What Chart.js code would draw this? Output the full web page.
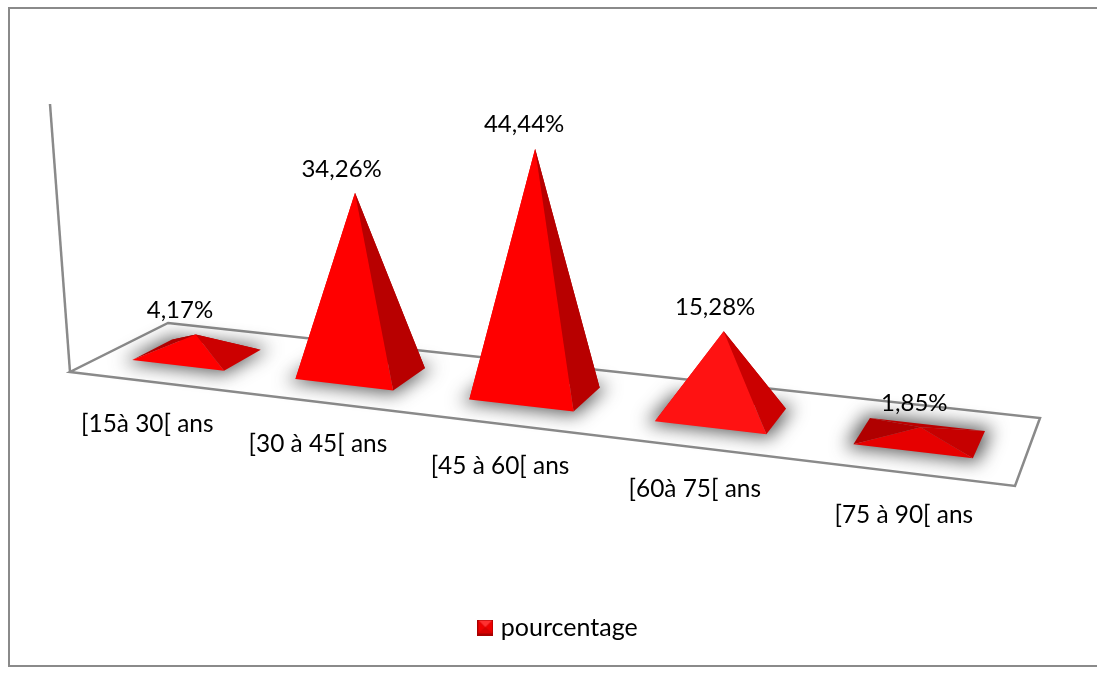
<!DOCTYPE html>
<html lang="fr">
<head>
<meta charset="utf-8">
<title>Répartition par tranche d'âge</title>
<style>html,body{margin:0;padding:0;background:#fff}canvas{display:block}</style>
<script src="https://cdn.jsdelivr.net/npm/chart.js@4/dist/chart.umd.min.js"></script>
</head>
<body>
<canvas id="chart" width="1097" height="673"></canvas>
<script>
// Chart content
const categories = ['[15à 30[ ans', '[30 à 45[ ans', '[45 à 60[ ans', '[60à 75[ ans', '[75 à 90[ ans'];
const seriesName = 'pourcentage';
const percentages = [4.17, 34.26, 44.44, 15.28, 1.85];
const valueLabels = ['4,17%', '34,26%', '44,44%', '15,28%', '1,85%'];

// Face shading per column: front, right, left, back (steep faces catch the light differently)
const faceShades = [
  ['#ff0000', '#cc0000', '#b00000', '#a80000'],
  ['#ff0000', '#b80000', '#e00000', '#a80000'],
  ['#ff0000', '#b80000', '#e00000', '#a80000'],
  ['#ff1212', '#cb0000', '#e00000', '#a80000'],
  ['#e60000', '#c60000', '#b00000', '#bc0000']
];

const GREY = '#8a8a8a';
const FONT_FAMILY = 'Lato, Carlito, sans-serif';

// Floor of the 3D scene as seen on screen: back-left, back-right, front-right, front-left
const floorQuad = [[168, 323], [1040, 418], [1015, 486], [70, 372]];
const wallTop = [50, 104];
const DEPTH_FRONT = 0.7, DEPTH_BACK = 0.29;
const BAND_SHIFT = -0.0035;

// Homography taking the unit square (u along the categories, v towards the viewer) to the floor
function makeProjection(q) {
  const [[x0, y0], [x1, y1], [x2, y2], [x3, y3]] = q;
  const dx1 = x1 - x2, dx2 = x3 - x2, sx = x0 - x1 + x2 - x3;
  const dy1 = y1 - y2, dy2 = y3 - y2, sy = y0 - y1 + y2 - y3;
  const det = dx1 * dy2 - dx2 * dy1;
  const g = (sx * dy2 - dx2 * sy) / det;
  const h = (dx1 * sy - sx * dy1) / det;
  const a = x1 - x0 + g * x1, b = x3 - x0 + h * x3;
  const d = y1 - y0 + g * y1, e = y3 - y0 + h * y3;
  return (u, v) => {
    const w = g * u + h * v + 1;
    return [(a * u + b * v + x0) / w, (d * u + e * v + y0) / w];
  };
}
const project = makeProjection(floorQuad);

function poly(ctx, pts, fill) {
  ctx.beginPath();
  pts.forEach((p, i) => (i ? ctx.lineTo(p[0], p[1]) : ctx.moveTo(p[0], p[1])));
  ctx.closePath();
  ctx.fillStyle = fill;
  ctx.fill();
}

// Bar controller whose elements are painted as pyramids standing on the projected floor
class PyramidController extends Chart.BarController {
  draw() {
    const ctx = this.chart.ctx;
    const area = this.chart.chartArea;
    const span = area.right - area.left;
    const bars = this.getMeta().data;
    bars.forEach((bar, i) => {
      const band = (bar.x - area.left) / span;
      const u = band + BAND_SHIFT;
      const du = bar.width / 2 / span;
      const fl = project(u - du, DEPTH_FRONT);
      const fr = project(u + du, DEPTH_FRONT);
      const br = project(u + du, DEPTH_BACK);
      const bl = project(u - du, DEPTH_BACK);
      const c = project(u, (DEPTH_FRONT + DEPTH_BACK) / 2);

      // Height from the value scale, foreshortened; verticals fan out with the camera
      const h = bar.base - bar.y;
      const rise = h * (0.8975 + 0.00025 * h + 0.15 * band);
      const lean = rise * (-0.08 + 0.16 * band);
      const apex = [c[0] + lean, c[1] - rise];
      const [front, right, left, back] = faceShades[i];

      // Soft contact shadow under the base
      ctx.save();
      ctx.filter = 'blur(9px)';
      const grow = 0.006, deep = 0.05;
      poly(ctx, [
        project(u - du - grow, DEPTH_FRONT + deep),
        project(u + du + grow, DEPTH_FRONT + deep),
        project(u + du + grow, DEPTH_BACK - deep),
        project(u - du - grow, DEPTH_BACK - deep)
      ], 'rgba(40,40,40,0.75)');
      ctx.restore();

      poly(ctx, [bl, br, apex], back);
      poly(ctx, [fl, bl, apex], left);
      poly(ctx, [fr, br, apex], right);
      poly(ctx, [fl, fr, apex], front);
      bar.$apex = apex;
    });
  }
}
PyramidController.id = 'pyramid';
PyramidController.defaults = Chart.BarController.defaults;
PyramidController.overrides = Chart.BarController.overrides;
Chart.register(PyramidController);

// Small pyramid seen from above, used as the legend marker
function legendMarker() {
  const c = document.createElement('canvas');
  c.width = c.height = 16;
  const g = c.getContext('2d');
  poly(g, [[0, 0], [16, 0], [16, 16], [0, 16]], '#a80000');
  poly(g, [[1, 1], [15, 1], [8, 8]], '#ff3030');
  poly(g, [[1, 1], [8, 8], [1, 14]], '#ee0000');
  poly(g, [[15, 1], [8, 8], [15, 14]], '#ee0000');
  poly(g, [[1, 14], [15, 14], [8, 8]], '#d80000');
  return c;
}

const scene = {
  id: 'scene',
  beforeDatasetsDraw(chart) {
    const ctx = chart.ctx;
    ctx.save();
    // Outer frame, running past the right edge of the page
    ctx.strokeStyle = GREY;
    ctx.lineWidth = 2;
    ctx.strokeRect(9, 8, 1110, 658);
    // Back wall edge and floor outline
    ctx.lineWidth = 2.5;
    ctx.lineJoin = 'miter';
    ctx.beginPath();
    ctx.moveTo(wallTop[0], wallTop[1]);
    ctx.lineTo(floorQuad[3][0], floorQuad[3][1]);
    ctx.stroke();
    ctx.beginPath();
    floorQuad.forEach((p, i) => (i ? ctx.lineTo(p[0], p[1]) : ctx.moveTo(p[0], p[1])));
    ctx.closePath();
    ctx.stroke();
    ctx.restore();
  },
  afterDatasetsDraw(chart) {
    const ctx = chart.ctx;
    const area = chart.chartArea;
    const span = area.right - area.left;
    const x = chart.scales.x;
    const bars = chart.getDatasetMeta(0).data;
    ctx.save();
    ctx.fillStyle = '#000';
    ctx.textAlign = 'center';
    ctx.textBaseline = 'middle';
    bars.forEach((bar, i) => {
      const u = (bar.x - area.left) / span;
      // Value above the tip
      ctx.font = '24px ' + FONT_FAMILY;
      ctx.fillText(valueLabels[i], bar.$apex[0] - 17 + 12 * u, bar.$apex[1] - 24);
      // Category label follows the front edge of the floor
      const edge = project(u, 1);
      ctx.font = '24.4px ' + FONT_FAMILY;
      ctx.fillText(x.getLabelForValue(i), edge[0] - 4 + 3 * u, edge[1] + 42);
    });
    ctx.restore();
  }
};

new Chart(document.getElementById('chart'), {
  type: 'pyramid',
  data: {
    labels: categories,
    datasets: [{ label: seriesName, data: percentages, backgroundColor: '#ff0000', clip: false }]
  },
  options: {
    responsive: false,
    animation: false,
    layout: { padding: { left: 70, right: 47, top: 104, bottom: 23 } },
    barPercentage: 0.57,
    categoryPercentage: 1,
    scales: {
      x: {
        grid: { display: false },
        border: { display: false },
        ticks: { display: false },
        afterFit(s) { s.height = 234; }
      },
      y: { display: false, min: 0, max: 50 }
    },
    plugins: {
      tooltip: { enabled: false },
      legend: {
        position: 'bottom',
        labels: {
          usePointStyle: true,
          pointStyle: legendMarker(),
          boxWidth: 6,
          boxHeight: 16,
          color: '#000',
          font: { family: FONT_FAMILY, size: 25 }
        }
      }
    }
  },
  plugins: [scene]
});
</script>
</body>
</html>
